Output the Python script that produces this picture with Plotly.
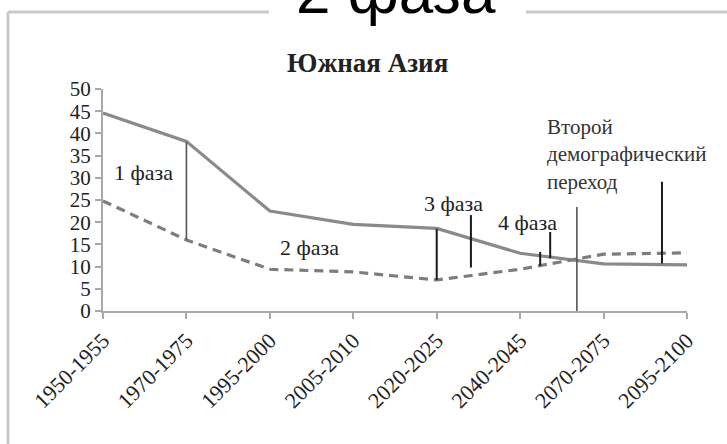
import plotly.graph_objects as go

# ---- data ----
periods = ["1950-1955", "1970-1975", "1995-2000", "2005-2010",
           "2020-2025", "2040-2045", "2070-2075", "2095-2100"]
birth_rate = [44.6, 38.2, 22.5, 19.5, 18.6, 13.0, 10.6, 10.4]   # solid
death_rate = [24.8, 16.0, 9.4, 8.8, 7.0, 9.4, 12.8, 13.1]       # dashed

# phase marker lines: (category position, low value, high value)
marker_pos = [1.0, 4.0, 4.41, 5.24, 5.36, 6.70]
marker_lo = [16.0, 7.0, 9.8, 10.2, 11.9, 10.7]
marker_hi = [38.0, 18.5, 21.6, 13.3, 17.8, 29.1]
transition_pos = 5.68
transition_hi = 23.4

phase_labels = ["1 фаза", "2 фаза", "3 фаза", "4 фаза"]
phase_x = [0.48, 2.48, 4.2, 5.09]
phase_y = [31.1, 14.3, 24.3, 20.0]

W, H = 727, 444
X0, X1 = 103, 687     # plot area pixels
Y0, Y1 = 89, 311

serif = "Liberation Serif, Times New Roman, serif"

fig = go.Figure()
fig.add_trace(go.Scatter(x=list(range(len(periods))), y=birth_rate, mode="lines",
                         line=dict(color="#8a8a8a", width=3.2), showlegend=False))
fig.add_trace(go.Scatter(x=list(range(len(periods))), y=death_rate, mode="lines",
                         line=dict(color="#7d7d7d", width=3.2, dash="9px,6px"),
                         showlegend=False))

shapes = []
# frame of the slide picture
shapes.append(dict(type="line", xref="paper", yref="paper",
                   x0=8 / W, x1=1.01, y0=1 - 12 / H, y1=1 - 12 / H,
                   line=dict(color="#c9c9c9", width=3)))
shapes.append(dict(type="line", xref="paper", yref="paper",
                   x0=8 / W, x1=8 / W, y0=1 - 12 / H, y1=-0.01,
                   line=dict(color="#c9c9c9", width=3)))
shapes.append(dict(type="rect", xref="paper", yref="paper",
                   x0=269 / W, x1=526 / W, y0=1 - 20 / H, y1=1.01,
                   fillcolor="white", line=dict(width=0), layer="above"))

for xp, lo, hi in zip(marker_pos, marker_lo, marker_hi):
    shapes.append(dict(type="line", xref="x", yref="y", x0=xp, x1=xp, y0=lo, y1=hi,
                       line=dict(color="#1a1a1a" if xp != 1.0 else "#555555",
                                 width=2 if xp != 1.0 else 1.6)))
shapes.append(dict(type="line", xref="x", yref="y", x0=transition_pos, x1=transition_pos,
                   y0=0, y1=transition_hi, line=dict(color="#555555", width=1.6)))

annotations = []
for t, xp, yp in zip(phase_labels, phase_x, phase_y):
    annotations.append(dict(text=t, x=xp, y=yp, xref="x", yref="y", showarrow=False,
                            font=dict(family=serif, size=22, color="#222222")))
annotations.append(dict(text="Второй<br>демографический<br>переход", x=5.30, y=44.5,
                        xref="x", yref="y", xanchor="left", yanchor="top", align="left",
                        showarrow=False,
                        font=dict(family=serif, size=21, color="#333333")))
annotations.append(dict(text="<b>Южная Азия</b>", x=367 / W, y=1 - 46 / H,
                        xref="paper", yref="paper", showarrow=False,
                        font=dict(family=serif, size=27, color="#222222")))
annotations.append(dict(text="2 фаза", x=396 / W, y=1 - 27 / H, xref="paper", yref="paper",
                        xanchor="center", yanchor="bottom", showarrow=False, borderpad=0,
                        font=dict(family="Liberation Sans, Arial, sans-serif", size=62,
                                  color="black")))

fig.update_layout(
    width=W, height=H, margin=dict(l=0, r=0, t=0, b=0, autoexpand=False),
    paper_bgcolor="white", plot_bgcolor="white",
    shapes=shapes, annotations=annotations,
    xaxis=dict(domain=[X0 / W, X1 / W], range=[0, len(periods) - 1], automargin=False,
               tickvals=list(range(len(periods))), ticktext=periods, tickangle=-45,
               showline=True, linecolor="#a8a8a8", linewidth=2, showgrid=False,
               zeroline=False, ticks="outside", ticklen=6, tickcolor="#a8a8a8",
               tickwidth=1.5, tickfont=dict(family=serif, size=22, color="#222222")),
    yaxis=dict(domain=[1 - Y1 / H, 1 - Y0 / H], range=[0, 50], dtick=5, automargin=False,
               showline=True, linecolor="#a8a8a8", linewidth=2, showgrid=False,
               zeroline=False, ticks="outside", ticklen=6, tickcolor="#a8a8a8",
               tickwidth=1.5, tickfont=dict(family=serif, size=21, color="#222222")),
)

fig.write_html("out.html", config={"displayModeBar": False},
               post_script="document.body.style.margin='0';")
